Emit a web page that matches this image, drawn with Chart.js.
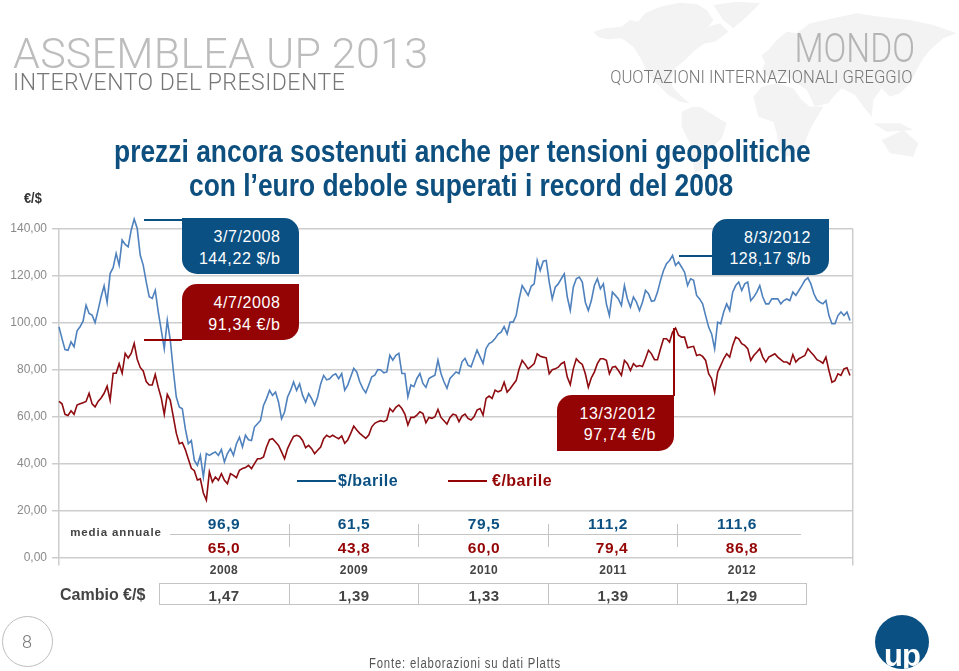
<!DOCTYPE html>
<html lang="it">
<head>
<meta charset="utf-8">
<title>Quotazioni internazionali greggio</title>
<script src="https://cdn.jsdelivr.net/npm/chart.js@4"></script>
<style>
  html, body { margin: 0; padding: 0; background: #fff; }
  #page { position: relative; width: 959px; height: 671px; overflow: hidden; font-family: "Liberation Sans", Arial, sans-serif; }
  #page > * { position: absolute; }
  #chart { left: 0; top: 0; }
  .t { white-space: nowrap; line-height: 1; }
  .c { transform: translate(-50%, -50%); }
  .head { font-family: "Roboto", "Liberation Sans", sans-serif; font-weight: 300; }
  .title { color: #0d4f7f; font-weight: 700; font-size: 32px; transform: scaleX(.825); transform-origin: 0 0; }
  .box { width: 117px; height: 56px; color: #fff; font-size: 16px; letter-spacing: .6px; }
  .box span { position: absolute; right: 18px; line-height: 1; }
  .blue { background: #0b5082; }
  .red { background: #950404; }
  .val { font-size: 15.5px; font-weight: 700; letter-spacing: .6px; }
  .year { font-size: 12px; font-weight: 700; color: #444; letter-spacing: .4px; }
  .fx { font-size: 15px; font-weight: 700; color: #444; letter-spacing: .5px; }
  .rule { background: #c4c4c4; }
</style>
</head>
<body>
<div id="page">
  <svg style="left:580px;top:0" width="379" height="180" viewBox="0 0 1137 540" fill="#f3f3f3">
    <path d="M40,95 L75,85 L125,80 L150,60 L175,65 L195,40 L240,20 L300,8 L350,12 L380,30 L400,60 L385,80 L420,70 L445,95 L405,125 L375,130 L345,150 L315,180 L285,205 L270,240 L280,265 L310,295 L330,310 L300,305 L265,285 L235,255 L205,225 L185,180 L160,140 L125,115 L85,118 L55,112 Z"/>
    <path d="M400,15 L470,5 L540,10 L500,50 L460,85 L430,60 Z"/>
    <path d="M305,335 L335,322 L360,320 L400,345 L440,370 L425,415 L390,450 L370,490 L365,510 L345,520 L335,470 L330,430 L305,380 Z"/>
    <path d="M520,290 L545,260 L590,250 L640,265 L665,300 L690,320 L730,320 L700,370 L685,400 L670,440 L625,470 L600,460 L590,400 L580,365 L535,350 Z"/>
    <path d="M545,165 L565,150 L590,120 L620,95 L650,100 L690,70 L760,55 L830,40 L900,50 L990,60 L1060,75 L1130,100 L1090,115 L1050,150 L1030,175 L1010,210 L990,250 L960,280 L930,290 L905,265 L880,300 L875,350 L850,320 L825,285 L785,265 L760,290 L745,310 L705,320 L680,270 L640,240 L600,225 L570,235 L545,215 L555,190 Z"/>
    <path d="M905,420 L970,390 L1015,430 L1000,470 L930,460 Z"/>
    <path d="M880,370 L960,370 L1000,390 L920,395 Z"/>
  </svg>

  <canvas id="chart" width="959" height="671"></canvas>

  <div class="t head" style="left:13px;top:32px;font-size:43px;color:#bdbdbd;letter-spacing:.25px">ASSEMBLEA UP 2013</div>
  <div class="t head" style="left:13px;top:71px;font-size:23px;color:#777;letter-spacing:.5px">INTERVENTO DEL PRESIDENTE</div>
  <div class="t head" style="right:44px;top:28px;font-size:41px;color:#b5b5b5;transform:scaleX(.82);transform-origin:100% 0">MONDO</div>
  <div class="t head" style="right:47px;top:67px;font-size:19px;color:#777;transform:scaleX(.875);transform-origin:100% 0">QUOTAZIONI INTERNAZIONALI GREGGIO</div>

  <div class="t title" style="left:114px;top:135px">prezzi ancora sostenuti anche per tensioni geopolitiche</div>
  <div class="t title" style="left:189px;top:169px">con l’euro debole superati i record del 2008</div>
  <div class="t" style="left:24px;top:190px;font-size:15px;font-weight:700;color:#333;transform:scaleX(.85);transform-origin:0 0">€/$</div>

  <div style="left:144px;top:218.5px;width:38px;height:2px;background:#0b5082"></div>
  <div class="box blue" style="left:181.5px;top:218px;border-radius:0 15px 0 15px">
    <span style="top:11px">3/7/2008</span><span style="top:33px">144,22 $/b</span>
  </div>
  <div style="left:144px;top:338.5px;width:38px;height:2px;background:#950404"></div>
  <div class="box red" style="left:181.5px;top:284px;border-radius:15px 0 15px 0">
    <span style="top:11px">4/7/2008</span><span style="top:33px">91,34 €/b</span>
  </div>
  <div style="left:679px;top:254.5px;width:34px;height:2px;background:#0b5082"></div>
  <div class="box blue" style="left:712px;top:219px;border-radius:15px 0 15px 0">
    <span style="top:11px">8/3/2012</span><span style="top:32px">128,17 $/b</span>
  </div>
  <div style="left:672.5px;top:328px;width:2px;height:68px;background:#950404"></div>
  <div class="box red" style="left:557px;top:395px;border-radius:15px 0 15px 0">
    <span style="top:11px">13/3/2012</span><span style="top:32px">97,74 €/b</span>
  </div>

  <div style="left:297px;top:480px;width:39px;height:2px;background:#0b5082"></div>
  <div class="t" style="left:338px;top:473px;font-size:16px;font-weight:700;color:#0b5082;letter-spacing:.5px">$/barile</div>
  <div style="left:448px;top:480px;width:39px;height:2px;background:#950404"></div>
  <div class="t" style="left:492px;top:473px;font-size:16px;font-weight:700;color:#950404;letter-spacing:.5px">€/barile</div>

  <div class="t c" style="left:116px;top:533px;font-size:11.5px;font-weight:700;color:#444;letter-spacing:.9px">media annuale</div>
  <div class="rule" style="left:170px;top:534px;width:631px;height:1px"></div>
  <div class="rule" style="left:289px;top:524px;width:1px;height:23px"></div>
  <div class="rule" style="left:418px;top:524px;width:1px;height:23px"></div>
  <div class="rule" style="left:548px;top:524px;width:1px;height:23px"></div>
  <div class="rule" style="left:677px;top:524px;width:1px;height:23px"></div>

  <div class="t c val" style="left:224px;top:524px;color:#0b5082">96,9</div>
  <div class="t c val" style="left:354px;top:524px;color:#0b5082">61,5</div>
  <div class="t c val" style="left:484px;top:524px;color:#0b5082">79,5</div>
  <div class="t c val" style="left:608px;top:524px;color:#0b5082">111,2</div>
  <div class="t c val" style="left:737px;top:524px;color:#0b5082">111,6</div>
  <div class="t c val" style="left:224px;top:548px;color:#950404">65,0</div>
  <div class="t c val" style="left:354px;top:548px;color:#950404">43,8</div>
  <div class="t c val" style="left:484px;top:548px;color:#950404">60,0</div>
  <div class="t c val" style="left:612px;top:548px;color:#950404">79,4</div>
  <div class="t c val" style="left:742px;top:548px;color:#950404">86,8</div>

  <div class="t c year" style="left:224px;top:570px">2008</div>
  <div class="t c year" style="left:354px;top:570px">2009</div>
  <div class="t c year" style="left:484px;top:570px">2010</div>
  <div class="t c year" style="left:613px;top:570px">2011</div>
  <div class="t c year" style="left:742px;top:570px">2012</div>

  <div class="t" style="left:60px;top:587px;font-size:16px;font-weight:700;color:#444">Cambio €/$</div>
  <div style="left:159px;top:583px;width:646px;height:20px;border:1px solid #c4c4c4"></div>
  <div class="rule" style="left:289px;top:583px;width:1px;height:21px"></div>
  <div class="rule" style="left:418px;top:583px;width:1px;height:21px"></div>
  <div class="rule" style="left:548px;top:583px;width:1px;height:21px"></div>
  <div class="rule" style="left:677px;top:583px;width:1px;height:21px"></div>
  <div class="t c fx" style="left:224px;top:595px">1,47</div>
  <div class="t c fx" style="left:354px;top:595px">1,39</div>
  <div class="t c fx" style="left:484px;top:595px">1,33</div>
  <div class="t c fx" style="left:613px;top:595px">1,39</div>
  <div class="t c fx" style="left:742px;top:595px">1,29</div>

  <div style="left:2px;top:616px;width:49px;height:49px;border:1px solid #bdbdbd;border-radius:50%"></div>
  <div class="t c head" style="left:27px;top:642px;font-size:18px;color:#777">8</div>
  <div class="t" style="left:369px;top:656px;font-size:14px;color:#555;letter-spacing:1px;transform:scaleX(.81);transform-origin:0 0">Fonte: elaborazioni su dati Platts</div>

  <div style="left:875px;top:615px;width:54px;height:54px;border-radius:50%;background:#0b5082;overflow:hidden">
    <div class="t" style="position:absolute;left:9px;top:25px;font-size:31px;font-weight:700;color:#fff;letter-spacing:-1px">up</div>
  </div>
</div>

<script>
// one value every 3 px of plot width (about a week and a half)
const usdBarrel = [
  98.3, 93.3, 88.6, 88.3, 91.9, 89.8, 96.6, 98.3, 100.7, 107.5, 104, 103.3, 100.1, 105.4, 111.1, 115.8,
  108.7, 121, 123.5, 129.6, 124.6, 135.3, 133.4, 132.4, 139.5, 144.2, 140.3, 128.9, 124.6, 117.5, 111.1, 110.4,
  113.9, 104.7, 96.9, 89, 101.1, 92.6, 79.8, 68.4, 64.2, 63.4, 54.9, 48.5, 49.9, 41.4, 39.3, 43.5,
  34.3, 44.3, 43.5, 44.3, 45, 43.5, 46, 40.7, 44.3, 46.4, 43.5, 48.5, 51.3, 47.1, 52.1, 50.2,
  49.9, 55.6, 57, 58.4, 64.8, 67.7, 71.2, 69.1, 70.5, 66.2, 59.1, 62, 68.4, 71.2, 74.8, 71.2,
  74, 69.1, 66.2, 69.8, 67.7, 64.8, 68.4, 74, 77.6, 75.7, 76.2, 77.6, 78.3, 76.2, 78.4, 71.3,
  73.5, 77, 80.6, 79.1, 74.9, 72.1, 70.2, 73.5, 77, 77.7, 80.1, 79.9, 78.7, 79.1, 86.2, 84.1,
  86.2, 87, 78.4, 78.4, 68.5, 73.5, 72.8, 76.3, 78.4, 74.2, 72.5, 76.3, 77, 77.7, 84.1, 78.4,
  74.9, 72.1, 76.3, 77.7, 79.1, 78.4, 83.4, 84.8, 82, 81.3, 84.8, 88.4, 85.5, 82.7, 89.1, 91.2,
  91.9, 93.3, 95.2, 96, 98.4, 95.3, 100.3, 100.3, 103.1, 110.2, 115.9, 113.8, 111.7, 115.6, 116.6, 126.6,
  122.3, 126.3, 126.6, 117.4, 110.2, 115.2, 116.6, 118.8, 120.9, 111, 105.3, 115.2, 118.8, 119.5, 117.4, 108.8,
  105.3, 109.5, 115.9, 118.8, 114.5, 116.6, 108.1, 103.1, 113.1, 111.7, 110.2, 107.4, 115.9, 110.2, 106.7, 111,
  108.8, 105.3, 108.8, 113.8, 112.4, 109.2, 109.5, 113.1, 118.1, 122.3, 125.2, 126.6, 128.7, 124.5, 125.9, 123.8,
  121.6, 115.9, 118.8, 118.1, 111.7, 110.2, 108.1, 103.1, 98.2, 95.3, 88.9, 100.3, 99.6, 104.6, 108.1, 105.3,
  113.1, 115.9, 117.4, 113.8, 116.6, 117.4, 109.5, 111, 113.1, 115.9, 111, 108.1, 108.1, 110.2, 110.2, 110.2,
  108.1, 109.5, 110.2, 109.5, 113.1, 111.7, 113.8, 115.9, 118.1, 119.2, 116.6, 112.4, 109.8, 108.8, 108.1, 109.5,
  103.1, 99.6, 99.6, 103.1, 104.6, 103.1, 104.6, 101
];
const eurBarrel = [
  66.5, 65.5, 61, 60.5, 62.5, 61, 65, 65.5, 66, 66.5, 70, 65.5, 64.2, 66.5, 68, 70,
  73, 67, 78.5, 78.5, 82.6, 78.5, 87, 85, 87, 91.3, 84.5, 81, 79.5, 75, 73.5, 73.5,
  78, 72.5, 68, 61, 69.5, 67, 60, 53, 48.5, 49, 46, 42, 38, 37, 33, 33.5,
  27.5, 24.5, 36.5, 32.2, 34.3, 32.9, 35.7, 32.9, 31.5, 35.7, 35, 34, 37.2, 37.9, 38.3, 39.3,
  37.9, 40, 42.1, 42.1, 42.8, 47.1, 50.2, 50.6, 49.2, 47.8, 45, 42.1, 46.4, 49.2, 51.6, 52.1,
  51.6, 49.9, 46.8, 47.8, 46.4, 44.3, 45.7, 47.1, 50.6, 52.1, 51.3, 52.1, 51.3, 50.6, 51.8, 48.7,
  50.1, 52.9, 56, 54.3, 52.9, 51.8, 50.8, 52.2, 55.7, 57.2, 57.9, 58.3, 57.9, 58.6, 63.5, 62.1,
  64, 65, 63.5, 61.1, 56.5, 59.7, 59.7, 60.7, 62.1, 61.4, 57.4, 59.7, 59.3, 60, 63.1, 59.7,
  58.3, 56.9, 59.7, 61.1, 60.7, 57.9, 60.3, 61.1, 59.3, 58.6, 60, 62.8, 63.5, 60.7, 67.8, 68.8,
  67.8, 71.3, 70.6, 71.2, 74.7, 70.5, 71.9, 73.7, 75.4, 80.4, 84, 82.3, 80.4, 81.4, 82.6, 86.8,
  85.8, 85.4, 85.1, 78.3, 80, 80.4, 81.1, 82.6, 83.3, 76.9, 73.7, 80.4, 84.7, 83.3, 82.3, 78.3,
  72.6, 76.6, 79, 82.6, 84.7, 84.7, 84, 78.3, 81.1, 81.4, 79.7, 77.6, 84, 82.6, 79.7, 82.6,
  81.4, 81.8, 81.4, 84.7, 88.3, 86.8, 84.3, 84.3, 89, 93.2, 93.2, 91.8, 96.1, 97.8, 94.7, 93.9,
  93.9, 89.4, 89.7, 90, 86.1, 86.5, 85.7, 84, 78.3, 76.2, 70.5, 79, 81.8, 84.7, 86.8, 85.4,
  90.4, 93.9, 93.2, 91.1, 90.4, 89, 84, 86.1, 87.5, 89, 85.4, 83.3, 85.4, 86.1, 86.8, 85.4,
  84.3, 83.3, 83.3, 82.3, 86.5, 83.3, 84.7, 85.4, 86.1, 89, 87.5, 86.1, 84.3, 83.7, 82.8, 85.4,
  79.7, 74.7, 75.4, 78.3, 77.6, 80.4, 80.9, 77.6
];
const yTicks = [0, 20, 40, 60, 80, 100, 120, 140];

// one empty slot at the end so the frame closes a little past the last sample
const samples = usdBarrel.map((v, i) => i).concat(usdBarrel.length);
const lastSample = samples.length - 1;

const plotLeft = 59, plotRight = 853, plotTop = 229, plotBottom = 557.5;
const gridColor = "#cdcdcd";

new Chart(document.getElementById("chart"), {
  type: "line",
  data: {
    labels: samples,
    datasets: [
      { label: "$/barile", data: usdBarrel, borderColor: "#4f81bd" },
      { label: "€/barile", data: eurBarrel, borderColor: "#8e0b10" },
    ],
  },
  options: {
    responsive: false,
    animation: false,
    layout: { padding: { top: plotTop, right: 959 - plotRight } },
    elements: {
      line: { borderWidth: 1.6, tension: 0 },
      point: { radius: 0 },
    },
    datasets: { line: { clip: false } },
    plugins: { legend: { display: false }, tooltip: { enabled: false } },
    scales: {
      x: {
        type: "category",
        // only the first and last grid lines show, they are the side frame
        grid: {
          color: (c) => (c.index === 0 || c.index === lastSample ? gridColor : "transparent"),
          lineWidth: 1.5,
          tickLength: 8,
          drawOnChartArea: true,
        },
        border: { display: false },
        ticks: { display: false, autoSkip: false, maxRotation: 0 },
        afterFit: (axis) => { axis.height = 671 - plotBottom; },
      },
      y: {
        min: 0,
        max: 140,
        afterBuildTicks: (axis) => { axis.ticks = yTicks.map((value) => ({ value })); },
        grid: { color: gridColor, lineWidth: 1.5, tickLength: 7 },
        border: { display: false },
        ticks: {
          color: "#8a8a8a",
          padding: 5,
          font: { family: "'Liberation Sans'", size: 12 },
          callback: (v) => v.toFixed(2).replace(".", ","),
        },
        afterFit: (axis) => { axis.width = plotLeft; },
      },
    },
  },
});
</script>
</body>
</html>
